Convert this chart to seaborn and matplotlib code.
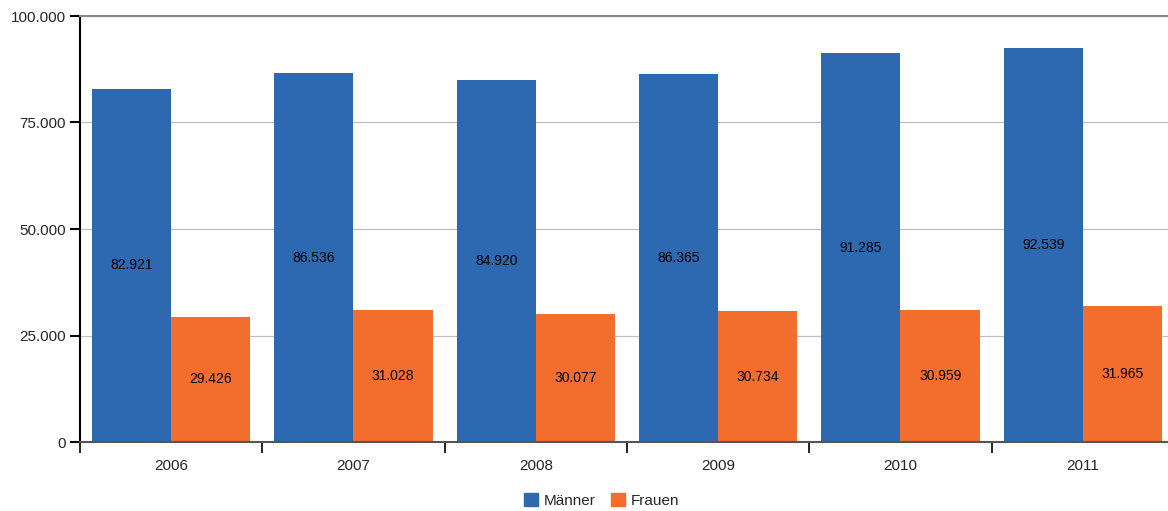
import matplotlib
matplotlib.use("Agg")
import matplotlib.pyplot as plt
from matplotlib.ticker import FuncFormatter, FixedLocator
import numpy as np
import pandas as pd
import seaborn as sns

# Daten
jahre = ["2006", "2007", "2008", "2009", "2010", "2011"]
maenner = [82921, 86536, 84920, 86365, 91285, 92539]
frauen = [29426, 31028, 30077, 30734, 30959, 31965]
serien = ["Männer", "Frauen"]
farben = ["#2d69b1", "#f36d2d"]

df = pd.DataFrame({
    "Jahr": jahre * 2,
    "Wert": maenner + frauen,
    "Gruppe": [serien[0]] * len(jahre) + [serien[1]] * len(jahre),
})

sns.set_style("white")
plt.rcParams["font.family"] = ["Liberation Sans", "DejaVu Sans"]


def de_fmt(v, pos=None):
    return f"{int(round(v)):,}".replace(",", ".")


fig = plt.figure(figsize=(11.68, 5.11), dpi=100)
ax = fig.add_axes([80 / 1168, 69 / 511, 1 - 80 / 1168, 426 / 511])

sns.barplot(data=df, x="Jahr", y="Wert", hue="Gruppe", palette=farben,
            width=0.87, gap=0, saturation=1, linewidth=0, ax=ax, legend=False)

for cont in ax.containers:
    ax.bar_label(cont, labels=[de_fmt(b.get_height()) for b in cont],
                 label_type="center", fontsize=10, color="black")

ax.set_ylim(0, 100000)
ax.set_xlim(-0.5, -0.5 + (1168 - 80) / 182.33)
ax.yaxis.set_major_locator(FixedLocator([0, 25000, 50000, 75000, 100000]))
ax.yaxis.set_major_formatter(FuncFormatter(de_fmt))
ax.yaxis.grid(True, color="#c0c0c0", linewidth=0.9)
ax.set_axisbelow(True)

ax.xaxis.set_minor_locator(FixedLocator(np.arange(-0.5, 6, 1.0)))
ax.tick_params(axis="x", which="major", bottom=True, length=0, pad=12, labelsize=11)
ax.tick_params(axis="x", which="minor", bottom=True, length=8, width=1.2,
               color="black", direction="out")
ax.tick_params(axis="y", which="major", left=True, length=7, width=1.5,
               color="black", labelsize=11, pad=3, direction="out")

ax.set_xlabel("")
ax.set_ylabel("")
ax.spines["right"].set_visible(False)
ax.spines["left"].set_color("black")
ax.spines["left"].set_linewidth(1.5)
ax.spines["bottom"].set_color("#555555")
ax.spines["bottom"].set_linewidth(1.5)
ax.spines["top"].set_color("#888888")
ax.spines["top"].set_linewidth(1.5)

handles = [plt.Rectangle((0, 0), 1, 1, color=c) for c in farben]
fig.legend(handles, serien, loc="center", bbox_to_anchor=(0.515, 0.02), ncol=2,
           frameon=False, fontsize=11, handlelength=0.9, handleheight=0.9,
           handletextpad=0.4, columnspacing=1.0)

fig.savefig("out.png", dpi=100)
